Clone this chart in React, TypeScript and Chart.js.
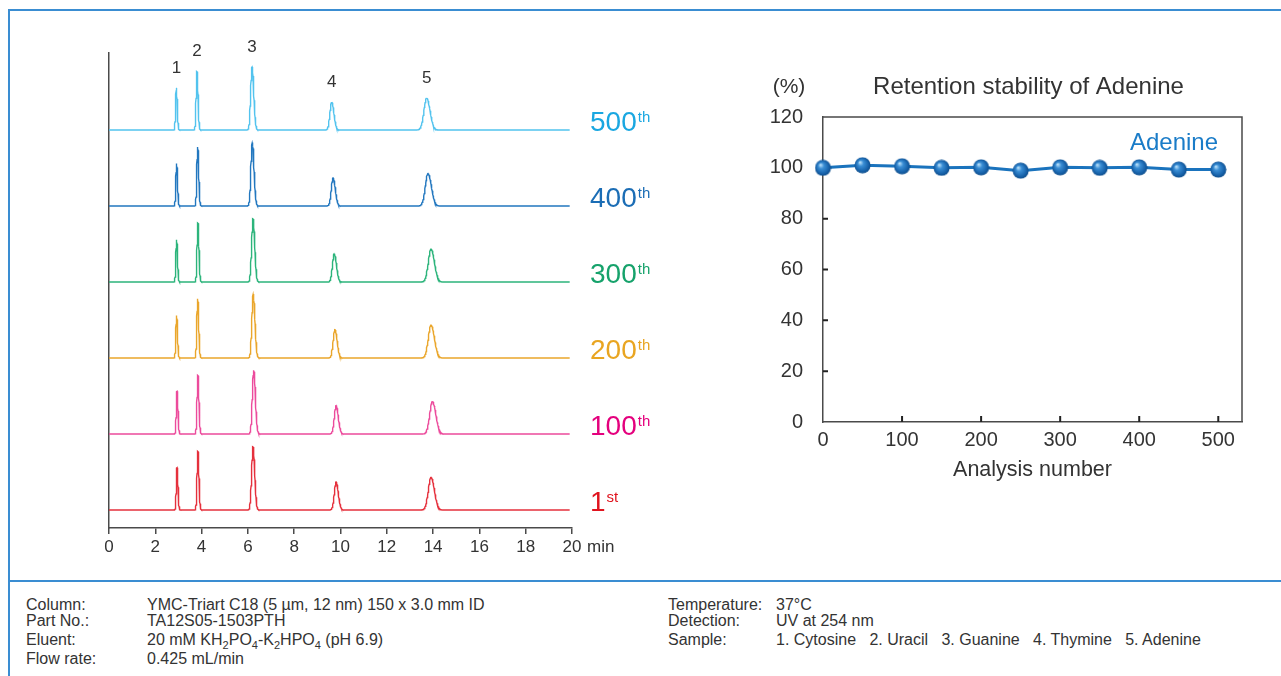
import React, { useEffect, useRef } from "react";
import { Chart, registerables } from "chart.js";

Chart.register(...registerables);

const FONT = '"Liberation Sans", Arial, Helvetica, sans-serif';
const TEXT = "#333333";
const AXIS = "#4a4a4a";
const FRAME = "#3a8dd2";

// ---------- Chromatogram data ----------
const PEAK_NAMES = ["1", "2", "3", "4", "5"];
const RUN_NUMBERS = ["1", "100", "200", "300", "400", "500"];
const RUN_SUFFIX = ["st", "th", "th", "th", "th", "th"];
const TRACE_COLORS = ["#e5303c", "#ec4b9c", "#eaa62b", "#2cb47b", "#2277bf", "#52c3ee"];
const LABEL_COLORS = ["#e0141e", "#e4007d", "#e9a521", "#16a26b", "#1b6db5", "#1aa7e1"];
const TIME_TICKS = [0, 2, 4, 6, 8, 10, 12, 14, 16, 18, 20];

// retention times (min) per run: peaks 1..5
const RT_1ST = [2.94, 3.84, 6.22, 9.81, 13.91];
const RT_100TH = [2.94, 3.84, 6.25, 9.81, 13.97];
const RT_200TH = [2.92, 3.83, 6.23, 9.76, 13.91];
const RT_300TH = [2.92, 3.84, 6.22, 9.73, 13.91];
const RT_400TH = [2.92, 3.83, 6.19, 9.68, 13.78];
const RT_500TH = [2.91, 3.8, 6.18, 9.62, 13.72];

// peak heights (detector units) per run
const H_1ST = [42.3, 58.7, 63.3, 28.0, 32.7];
const H_100TH = [42.7, 58.7, 63.7, 28.4, 32.7];
const H_200TH = [42.6, 59.3, 64.0, 28.3, 33.0];
const H_300TH = [42.3, 59.0, 63.3, 28.3, 33.0];
const H_400TH = [42.4, 59.0, 63.4, 28.0, 32.4];
const H_500TH = [42.0, 58.6, 63.0, 28.0, 32.0];

// peak widths (sigma, min)
const PEAK_SIGMA = [0.035, 0.04, 0.065, 0.085, 0.13];

const RUN_RT = [RT_1ST, RT_100TH, RT_200TH, RT_300TH, RT_400TH, RT_500TH];
const RUN_H = [H_1ST, H_100TH, H_200TH, H_300TH, H_400TH, H_500TH];
const TRACE_OFFSET = 18;
const TRACE_SPACING = 76;
const Y_TOP = 475;
const RUN_END = 19.9;

// ---------- Retention stability data ----------
const ANALYSIS_NUMBER = [0, 50, 100, 150, 200, 250, 300, 350, 400, 450, 500];
const RETENTION_PCT = [100, 101, 100.6, 100, 100.2, 98.9, 100.2, 100, 100.2, 99.3, 99.3];
const N_TICKS = [0, 100, 200, 300, 400, 500];
const PCT_TICKS = [0, 20, 40, 60, 80, 100, 120];

function buildTrace(rts: number[], hs: number[], base: number) {
  const times: number[] = [];
  for (let t = 0; t <= RUN_END + 1e-9; t += 0.1) times.push(+t.toFixed(4));
  rts.forEach((rt, i) => {
    const s = PEAK_SIGMA[i];
    for (let k = -6; k <= 6; k += 0.125) times.push(rt + k * s);
  });
  times.sort((a, b) => a - b);
  const pts: { x: number; y: number }[] = [];
  let last = -1;
  for (const t of times) {
    if (t < 0 || t > RUN_END || t - last < 1e-6) continue;
    last = t;
    let v = base;
    rts.forEach((rt, i) => {
      const s = t < rt ? PEAK_SIGMA[i] * 0.9 : PEAK_SIGMA[i] * 1.12;
      const z = (t - rt) / s;
      v += hs[i] * Math.exp(-0.5 * z * z);
    });
    pts.push({ x: t, y: v });
  }
  return pts;
}

function makeSphere(): HTMLCanvasElement {
  const c = document.createElement("canvas");
  c.width = 17;
  c.height = 17;
  const g = c.getContext("2d")!;
  const grad = g.createRadialGradient(6, 5.5, 0.5, 8.5, 8.5, 8.5);
  grad.addColorStop(0, "#b3dcf8");
  grad.addColorStop(0.3, "#3a8ed5");
  grad.addColorStop(0.75, "#1762aa");
  grad.addColorStop(1, "#0c4a86");
  g.fillStyle = grad;
  g.beginPath();
  g.arc(8.5, 8.5, 8, 0, Math.PI * 2);
  g.fill();
  return c;
}

const chromLabels = {
  id: "chromLabels",
  afterDraw(chart: any) {
    const { ctx, scales } = chart;
    const x = scales.x;
    const y = scales.y;
    ctx.save();
    // run labels
    RUN_NUMBERS.forEach((num, i) => {
      const yb = y.getPixelForValue(TRACE_OFFSET + i * TRACE_SPACING) + 1;
      const x0 = chart.chartArea.right + 18;
      ctx.fillStyle = LABEL_COLORS[i];
      ctx.textBaseline = "alphabetic";
      ctx.textAlign = "left";
      ctx.font = `28px ${FONT}`;
      ctx.fillText(num, x0, yb);
      const w = ctx.measureText(num).width;
      ctx.font = `15px ${FONT}`;
      ctx.fillText(RUN_SUFFIX[i], x0 + w + 1, yb - 9);
    });
    // peak numbers above top trace
    const top = RUN_RT.length - 1;
    ctx.fillStyle = TEXT;
    ctx.font = `17px ${FONT}`;
    ctx.textAlign = "center";
    ctx.textBaseline = "middle";
    PEAK_NAMES.forEach((name, i) => {
      const px = x.getPixelForValue(RUN_RT[top][i]);
      const py = y.getPixelForValue(TRACE_OFFSET + top * TRACE_SPACING + RUN_H[top][i]) - 20;
      ctx.fillText(name, px, py);
    });
    // unit
    ctx.font = `17px ${FONT}`;
    ctx.textAlign = "left";
    ctx.fillText("min", x.getPixelForValue(20) + 15, x.top + 6 + 3 + 10.2);
    ctx.restore();
  },
};

const stabilityDecor = {
  id: "stabilityDecor",
  beforeDatasetsDraw(chart: any) {
    const { ctx, chartArea, scales } = chart;
    const { left, right, top, bottom } = chartArea;
    ctx.save();
    ctx.strokeStyle = AXIS;
    ctx.lineWidth = 1.5;
    ctx.beginPath();
    ctx.moveTo(left, top);
    ctx.lineTo(right, top);
    ctx.lineTo(right, bottom);
    ctx.stroke();
    ctx.strokeStyle = "#222";
    ctx.lineWidth = 2;
    ctx.beginPath();
    PCT_TICKS.forEach((v) => {
      if (v <= 0 || v >= 120) return;
      const py = scales.y.getPixelForValue(v);
      ctx.moveTo(left, py);
      ctx.lineTo(left + 5, py);
    });
    N_TICKS.forEach((v) => {
      if (v <= 0) return;
      const px = scales.x.getPixelForValue(v);
      ctx.moveTo(px, bottom);
      ctx.lineTo(px, bottom - 6);
    });
    ctx.stroke();
    ctx.restore();
  },
  afterDraw(chart: any) {
    const { ctx, chartArea, scales } = chart;
    ctx.save();
    ctx.textBaseline = "middle";
    ctx.fillStyle = TEXT;
    ctx.font = `24px ${FONT}`;
    ctx.textAlign = "center";
    ctx.fillText("Retention stability of Adenine", 328.5, 87);
    ctx.font = `21px ${FONT}`;
    ctx.fillText("(%)", 89, 87);
    ctx.fillStyle = "#1a7cc8";
    ctx.font = `24px ${FONT}`;
    ctx.textAlign = "right";
    ctx.fillText("Adenine", chartArea.right - 24, scales.y.getPixelForValue(110) + 1);
    ctx.restore();
  },
};

const SUB = { fontSize: 11 };
const infoLeft: [string, React.ReactNode][] = [
  ["Column:", "YMC-Triart C18 (5 µm, 12 nm) 150 x 3.0 mm ID"],
  ["Part No.:", "TA12S05-1503PTH"],
  [
    "Eluent:",
    <span>
      20 mM KH<sub style={SUB}>2</sub>PO<sub style={SUB}>4</sub>-K<sub style={SUB}>2</sub>HPO
      <sub style={SUB}>4</sub> (pH 6.9)
    </span>,
  ],
  ["Flow rate:", "0.425 mL/min"],
];
const infoRight: [string, React.ReactNode][] = [
  ["Temperature:", "37°C"],
  ["Detection:", "UV at 254 nm"],
  ["Sample:", "1. Cytosine   2. Uracil   3. Guanine   4. Thymine   5. Adenine"],
];
const ROW_CENTERS = [605, 621, 640, 659];

export default function App() {
  const leftRef = useRef<HTMLCanvasElement>(null);
  const rightRef = useRef<HTMLCanvasElement>(null);

  useEffect(() => {
    const left = new Chart(leftRef.current!, {
      type: "line",
      data: {
        datasets: RUN_NUMBERS.map((n, i) => ({
          label: n,
          data: buildTrace(RUN_RT[i], RUN_H[i], TRACE_OFFSET + i * TRACE_SPACING),
          borderColor: TRACE_COLORS[i],
          borderWidth: 1.4,
          pointRadius: 0,
          fill: false,
          tension: 0,
        })),
      },
      options: {
        animation: false,
        responsive: false,
        layout: { padding: { left: 109, right: 128, top: 53, bottom: 12 } },
        plugins: { legend: { display: false }, tooltip: { enabled: false } },
        scales: {
          x: {
            type: "linear",
            min: 0,
            max: 20,
            afterFit: (s: any) => {
              s.height = 40;
            },
            afterBuildTicks: (s: any) => {
              s.ticks = TIME_TICKS.map((v) => ({ value: v }));
            },
            grid: { display: true, drawOnChartArea: false, drawTicks: true, tickLength: 6, color: AXIS, lineWidth: 1.5 },
            border: { display: true, color: AXIS, width: 1.5 },
            ticks: { font: { family: FONT, size: 17 }, color: TEXT, padding: 3, maxRotation: 0, autoSkip: false },
          },
          y: {
            type: "linear",
            min: 0,
            max: Y_TOP,
            afterFit: (s: any) => {
              s.width = 0;
            },
            ticks: { display: false },
            grid: { display: false, drawTicks: false },
            border: { display: true, color: AXIS, width: 1.5 },
          },
        },
      } as any,
      plugins: [chromLabels],
    });

    const sphere = makeSphere();
    const right = new Chart(rightRef.current!, {
      type: "line",
      data: {
        labels: ANALYSIS_NUMBER,
        datasets: [
          {
            label: "Adenine",
            data: ANALYSIS_NUMBER.map((n, i) => ({ x: n, y: RETENTION_PCT[i] })),
            borderColor: "#1a73bd",
            borderWidth: 3,
            pointStyle: sphere as any,
            pointRadius: 8,
            tension: 0,
            clip: false as any,
          },
        ],
      },
      options: {
        animation: false,
        responsive: false,
        layout: { padding: { left: 63, right: 39, top: 117, bottom: 97 } },
        plugins: { legend: { display: false }, tooltip: { enabled: false } },
        scales: {
          x: {
            type: "linear",
            min: 0,
            max: 530,
            afterFit: (s: any) => {
              s.height = 61;
            },
            afterBuildTicks: (s: any) => {
              s.ticks = N_TICKS.map((v) => ({ value: v }));
            },
            grid: { display: false, drawTicks: false },
            border: { display: true, color: AXIS, width: 1.5 },
            ticks: { font: { family: FONT, size: 20 }, color: TEXT, padding: 6, maxRotation: 0, autoSkip: false },
            title: { display: true, text: "Analysis number", font: { family: FONT, size: 21.5 }, color: TEXT, padding: 0 },
          },
          y: {
            type: "linear",
            min: 0,
            max: 120,
            afterFit: (s: any) => {
              s.width = 60;
            },
            afterBuildTicks: (s: any) => {
              s.ticks = PCT_TICKS.map((v) => ({ value: v }));
            },
            grid: { display: false, drawTicks: false },
            border: { display: true, color: AXIS, width: 1.5 },
            ticks: { font: { family: FONT, size: 20 }, color: TEXT, padding: 20, autoSkip: false },
          },
        },
      } as any,
      plugins: [stabilityDecor],
    });

    return () => {
      left.destroy();
      right.destroy();
    };
  }, []);

  const rowStyle = (i: number): React.CSSProperties => ({
    position: "absolute",
    top: ROW_CENTERS[i] - 9,
    height: 18,
    lineHeight: "18px",
    whiteSpace: "pre",
  });

  return (
    <div
      style={{
        position: "absolute",
        left: 0,
        top: 0,
        width: 1281,
        height: 676,
        background: "#ffffff",
        overflow: "hidden",
        fontFamily: FONT,
        color: TEXT,
      }}
    >
      <div style={{ position: "absolute", left: 8, top: 9, width: 1273, height: 2, background: FRAME }} />
      <div style={{ position: "absolute", left: 8, top: 9, width: 2, height: 667, background: FRAME }} />
      <div style={{ position: "absolute", left: 8, top: 580, width: 1273, height: 2, background: FRAME }} />
      <canvas
        ref={leftRef}
        width={700}
        height={580}
        style={{ position: "absolute", left: 0, top: 0, width: 700, height: 580 }}
      />
      <canvas
        ref={rightRef}
        width={581}
        height={580}
        style={{ position: "absolute", left: 700, top: 0, width: 581, height: 580 }}
      />
      <div style={{ fontSize: 16 }}>
        {infoLeft.map(([k, v], i) => (
          <React.Fragment key={"l" + i}>
            <div style={{ ...rowStyle(i), left: 26 }}>{k}</div>
            <div style={{ ...rowStyle(i), left: 147 }}>{v}</div>
          </React.Fragment>
        ))}
        {infoRight.map(([k, v], i) => (
          <React.Fragment key={"r" + i}>
            <div style={{ ...rowStyle(i), left: 668 }}>{k}</div>
            <div style={{ ...rowStyle(i), left: 776 }}>{v}</div>
          </React.Fragment>
        ))}
      </div>
    </div>
  );
}
